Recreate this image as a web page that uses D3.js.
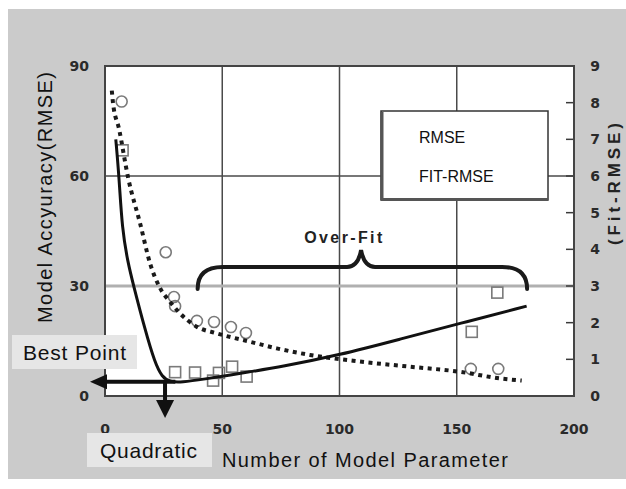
<!DOCTYPE html>
<html>
<head>
<meta charset="utf-8">
<script src="https://cdn.jsdelivr.net/npm/d3@7"></script>
<style>
  html, body { margin: 0; padding: 0; background: #ffffff; }
  svg { display: block; }
</style>
</head>
<body>
<svg id="chart" width="626" height="489"></svg>
<script>
// ---------------- data ----------------
const xTicks = [0, 50, 100, 150, 200];
const leftTicks = [0, 30, 60, 90];
const rightTicks = [0, 1, 2, 3, 4, 5, 6, 7, 8, 9];

// RMSE observations (circles, left axis)
const rmseX = [7.1, 25.9, 29.4, 29.9, 39.2, 46.5, 53.7, 60.1, 156.0, 167.7];
const rmseY = [80.3, 39.2, 27.0, 24.5, 20.5, 20.2, 18.8, 17.2, 7.4, 7.4];

// FIT-RMSE observations (squares, right axis)
const fitX = [7.5, 29.9, 38.4, 46.1, 48.6, 54.2, 60.4, 156.4, 167.3];
const fitY = [6.7, 0.65, 0.64, 0.42, 0.63, 0.80, 0.53, 1.75, 2.82];

// RMSE trend (dotted, left axis)
const rmseCurveX = [2.9, 3.4, 6.0, 9.9, 15.0, 19.2, 23.5, 27.7, 31.3, 39.1, 47.6, 61.8, 73.2, 87.4, 108.7, 130.0, 151.4, 168.4, 177.7];
const rmseCurveY = [83.3, 80.0, 72.8, 59.4, 47.0, 36.2, 29.4, 25.7, 23.0, 18.9, 17.1, 14.8, 13.0, 11.2, 9.4, 8.0, 6.6, 4.8, 4.2];

// FIT-RMSE quadratic fit (solid, right axis)
const fitCurveX = [4.6, 6.0, 7.3, 9.8, 11.9, 17.1, 21.3, 24.3, 27.7, 33.0, 40.5, 61.8, 74.6, 100.2, 125.8, 151.4, 179.8];
const fitCurveY = [7.0, 5.98, 4.55, 3.63, 3.08, 1.8, 0.90, 0.52, 0.38, 0.38, 0.44, 0.66, 0.79, 1.12, 1.55, 1.98, 2.45];

// annotations (data units)
const bestPoint = [25.6, 0.39];          // x, right-axis y
const bestArrowTipX = -6.4;
const bestArrowTailX = 30;
const bestArrowTipY = -0.6;             // right-axis units
const braceX = [39.5, 109.2, 180];      // left end, tip, right end
const braceY = [29.2, 35.2, 39.8];      // ends, bar, tip (left axis)
const overFitLabel = "Over-Fit";
const legendLabels = ["RMSE", "FIT-RMSE"];

// ---------------- layout ----------------
const svg = d3.select("#chart");
const W = 626, H = 489;
const plot = { left: 105, right: 574, top: 66, bottom: 396 };

const x = d3.scaleLinear().domain([0, 200]).range([plot.left, plot.right]);
const yL = d3.scaleLinear().domain([0, 90]).range([plot.bottom, plot.top]);
const yR = d3.scaleLinear().domain([0, 9]).range([plot.bottom, plot.top]);

// gray panel
svg.append("rect").attr("x", 8).attr("y", 9).attr("width", W - 8).attr("height", 470)
  .attr("fill", "#cbcbcb");

// plot background
svg.append("rect").attr("x", plot.left).attr("y", plot.top)
  .attr("width", plot.right - plot.left).attr("height", plot.bottom - plot.top)
  .attr("fill", "#ffffff");

// grid lines
const g = svg.append("g");
[50, 100, 150].forEach(v => {
  g.append("line").attr("x1", x(v)).attr("x2", x(v)).attr("y1", plot.top).attr("y2", plot.bottom)
    .attr("stroke", "#4a4a4a").attr("stroke-width", 1.5);
});
g.append("line").attr("x1", plot.left).attr("x2", plot.right).attr("y1", yL(60)).attr("y2", yL(60))
  .attr("stroke", "#4a4a4a").attr("stroke-width", 1.5);
g.append("line").attr("x1", plot.left).attr("x2", plot.right).attr("y1", yL(30)).attr("y2", yL(30))
  .attr("stroke", "#b0b0b0").attr("stroke-width", 3);

// right axis inner ticks
rightTicks.filter(d => d > 0 && d < 9).forEach(v => {
  g.append("line").attr("x1", plot.right - 8).attr("x2", plot.right).attr("y1", yR(v)).attr("y2", yR(v))
    .attr("stroke", "#3a3a3a").attr("stroke-width", 1.5);
});

// frame
svg.append("rect").attr("x", plot.left).attr("y", plot.top)
  .attr("width", plot.right - plot.left).attr("height", plot.bottom - plot.top)
  .attr("fill", "none").attr("stroke", "#444").attr("stroke-width", 2);

// tick labels
const tickFont = "'DejaVu Sans', sans-serif";
svg.append("g").selectAll("text").data(xTicks).join("text")
  .attr("x", d => x(d)).attr("y", 429).attr("text-anchor", "middle").attr("dominant-baseline", "central")
  .attr("font-family", tickFont).attr("font-weight", "bold").attr("font-size", 14)
  .attr("fill", "#2a2a2a").text(d => d);
svg.append("g").selectAll("text").data(leftTicks).join("text")
  .attr("x", 89).attr("y", d => yL(d)).attr("text-anchor", "end").attr("dominant-baseline", "central")
  .attr("font-family", tickFont).attr("font-weight", "bold").attr("font-size", 14)
  .attr("fill", "#2a2a2a").text(d => d);
svg.append("g").selectAll("text").data(rightTicks).join("text")
  .attr("x", 595).attr("y", d => yR(d)).attr("text-anchor", "middle").attr("dominant-baseline", "central")
  .attr("font-family", tickFont).attr("font-weight", "bold").attr("font-size", 14)
  .attr("fill", "#2a2a2a").text(d => d);

// axis titles
const titleFont = "'Liberation Sans', Arial, sans-serif";
svg.append("text").attr("x", 222).attr("y", 467)
  .attr("font-family", titleFont).attr("font-size", 20).attr("fill", "#111")
  .attr("textLength", 286).attr("lengthAdjust", "spacing")
  .text("Number of Model Parameter");
svg.append("text").attr("transform", "translate(52,323) rotate(-90)")
  .attr("font-family", titleFont).attr("font-size", 20).attr("fill", "#111")
  .attr("textLength", 251).attr("lengthAdjust", "spacing")
  .text("Model Accyuracy(RMSE)");
svg.append("text").attr("transform", "translate(620,245) rotate(-90)")
  .attr("font-family", titleFont).attr("font-weight", "bold").attr("font-size", 17).attr("fill", "#222")
  .attr("textLength", 122).attr("lengthAdjust", "spacing")
  .text("(Fit-RMSE)");

// markers
const mk = svg.append("g");
mk.selectAll("circle").data(rmseX.map((d, i) => [d, rmseY[i]])).join("circle")
  .attr("cx", d => x(d[0])).attr("cy", d => yL(d[1])).attr("r", 5.5)
  .attr("fill", "none").attr("stroke", "#7a7a7a").attr("stroke-width", 1.6);
mk.selectAll("rect").data(fitX.map((d, i) => [d, fitY[i]])).join("rect")
  .attr("x", d => x(d[0]) - 5.5).attr("y", d => yR(d[1]) - 5.5).attr("width", 11).attr("height", 11)
  .attr("fill", "none").attr("stroke", "#7a7a7a").attr("stroke-width", 1.6);

// curves
const lineL = d3.line().x(d => x(d[0])).y(d => yL(d[1])).curve(d3.curveMonotoneX);
const lineR = d3.line().x(d => x(d[0])).y(d => yR(d[1])).curve(d3.curveBasis);
svg.append("path").datum(rmseCurveX.map((d, i) => [d, rmseCurveY[i]]))
  .attr("d", lineL).attr("fill", "none").attr("stroke", "#1a1a1a")
  .attr("stroke-width", 4).attr("stroke-dasharray", "4,4.5");
svg.append("path").datum(fitCurveX.map((d, i) => [d, fitCurveY[i]]))
  .attr("d", lineR).attr("fill", "none").attr("stroke", "#111").attr("stroke-width", 3);

// legend
const lg = svg.append("g");
lg.append("rect").attr("x", 381).attr("y", 111).attr("width", 167).attr("height", 89)
  .attr("fill", "#fff").attr("stroke", "#333").attr("stroke-width", 1.5);
lg.append("line").attr("x1", 382).attr("x2", 382).attr("y1", 112).attr("y2", 200)
  .attr("stroke", "#555").attr("stroke-width", 3);
lg.append("line").attr("x1", 381).attr("x2", 548).attr("y1", 199.5).attr("y2", 199.5)
  .attr("stroke", "#555").attr("stroke-width", 3);
lg.selectAll("text").data(legendLabels).join("text")
  .attr("x", 419).attr("y", (d, i) => 143 + i * 38.5)
  .attr("font-family", titleFont).attr("font-size", 16).attr("fill", "#111").text(d => d);

// brace "Over-Fit"
const bx0 = x(braceX[0]), bxt = x(braceX[1]), bx1 = x(braceX[2]);
const byEnd = yL(braceY[0]), byBar = yL(braceY[1]), byTip = yL(braceY[2]);
const braceD = `M${bx0},${byEnd} Q${bx0},${byBar} ${bx0 + 25},${byBar}` +
  ` L${bxt - 14},${byBar} Q${bxt - 3},${byBar} ${bxt},${byTip}` +
  ` Q${bxt + 3},${byBar} ${bxt + 14},${byBar}` +
  ` L${bx1 - 25},${byBar} Q${bx1},${byBar} ${bx1},${byEnd}`;
svg.append("path").attr("d", braceD).attr("fill", "none").attr("stroke", "#1a1a1a")
  .attr("stroke-width", 4).attr("stroke-linecap", "round");
svg.append("text").attr("x", x(101.6)).attr("y", 243).attr("text-anchor", "middle")
  .attr("font-family", titleFont).attr("font-weight", "bold").attr("font-size", 16).attr("fill", "#222")
  .attr("textLength", 78).attr("lengthAdjust", "spacing").text(overFitLabel);

// best point arrows
const bpx = x(bestPoint[0]), bpy = yR(bestPoint[1]);
const tipX = x(bestArrowTipX), tipY = yR(bestArrowTipY);
svg.append("line").attr("x1", x(bestArrowTailX)).attr("x2", tipX + 14).attr("y1", bpy).attr("y2", bpy)
  .attr("stroke", "#111").attr("stroke-width", 4);
svg.append("path").attr("d", `M${tipX},${bpy} L${tipX + 17},${bpy - 7.5} L${tipX + 17},${bpy + 7.5} Z`)
  .attr("fill", "#111");
svg.append("line").attr("x1", bpx).attr("x2", bpx).attr("y1", bpy).attr("y2", tipY - 15)
  .attr("stroke", "#111").attr("stroke-width", 4);
svg.append("path").attr("d", `M${bpx},${tipY} L${bpx - 9},${tipY - 18} L${bpx + 9},${tipY - 18} Z`)
  .attr("fill", "#111");

// label boxes
svg.append("rect").attr("x", 12).attr("y", 335).attr("width", 125).attr("height", 34).attr("fill", "#e6e6e6");
svg.append("text").attr("x", 23).attr("y", 360).attr("font-family", titleFont).attr("font-size", 21)
  .attr("fill", "#111").attr("textLength", 103).attr("lengthAdjust", "spacing").text("Best Point");
svg.append("rect").attr("x", 87).attr("y", 433).attr("width", 125).attr("height", 34).attr("fill", "#e6e6e6");
svg.append("text").attr("x", 100).attr("y", 458).attr("font-family", titleFont).attr("font-size", 21)
  .attr("fill", "#111").attr("textLength", 97).attr("lengthAdjust", "spacing").text("Quadratic");
</script>
</body>
</html>
